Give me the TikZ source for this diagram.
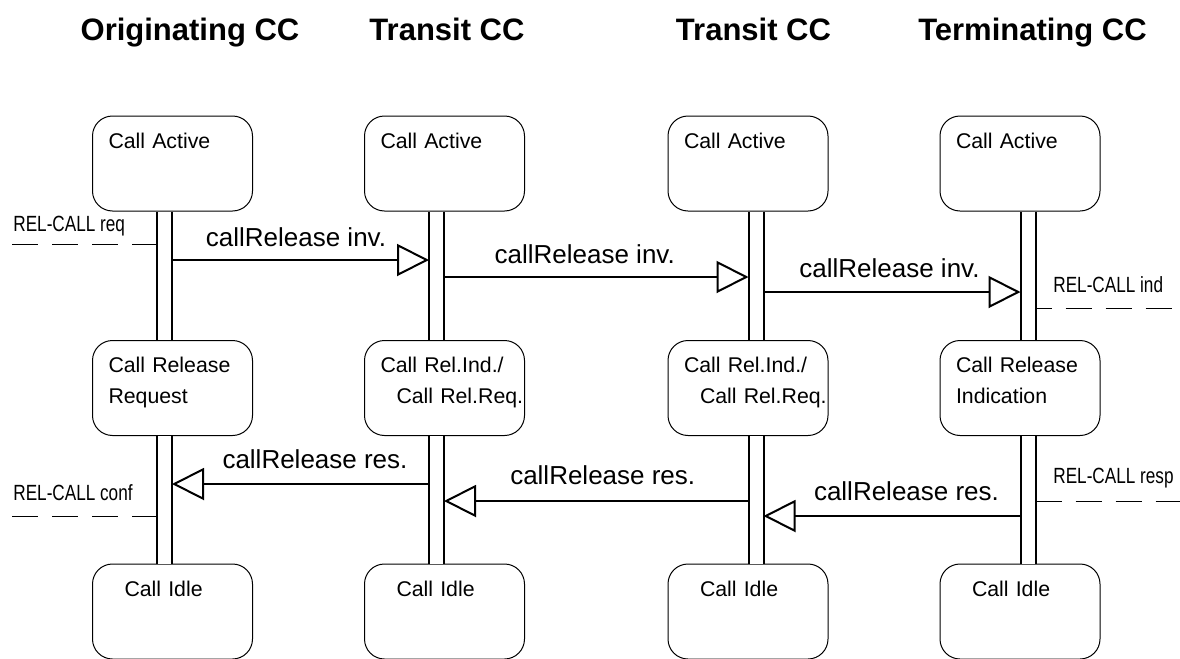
\documentclass[tikz,border=0pt]{standalone}
\usepackage{fontspec}
\setmainfont{Liberation Sans}
\usetikzlibrary{positioning,arrows.meta}

\newcommand{\statefont}{\fontsize{10.65pt}{15.5pt}\selectfont}
\newcommand{\msgfont}{\fontsize{13pt}{15pt}\selectfont}
\newcommand{\envfont}{\fontsize{11pt}{13pt}\selectfont}
\newcommand{\envtxt}[1]{\scalebox{0.78}[1]{#1}}

\begin{document}
\begin{tikzpicture}[
                        x=0.5pt, y=-0.5pt,
                        node distance=136pt,
                        >={Triangle[open,length=16pt,width=16pt]},
                        state/.style={rectangle, draw, rounded corners=10pt, line width=0.5pt,
                            minimum width=80pt, text width=64pt, inner xsep=8pt, inner ysep=0pt,
                            text height=16pt, text depth=31.5pt, align=left, font=\statefont},
                        header/.style={anchor=base, inner sep=0pt, font=\fontsize{15.5pt}{18pt}\selectfont\bfseries},
                        life/.style={double, double distance=6.5pt, line width=1pt},
                        msg/.style={line width=1pt},
                        msglabel/.style={anchor=base, inner sep=0pt, font=\msgfont},
                        env/.style={line width=0.5pt, dash pattern=on 13pt off 7pt},
                        envlabel/.style={anchor=base west, inner sep=0pt, font=\envfont}
                    ]
                    \useasboundingbox (0,0) rectangle (1180,659);

                    % Headers
                    \node [header] (hdorig) at (190,40) {Originating CC};
                    \node [header] (hdtr1) at (447,40) {Transit CC};
                    \node [header] (hdtr2) at (753.5,40) {Transit CC};
                    \node [header] (hdterm) at (1032.5,40) {Terminating CC};

                    % States
                    \node [state] (act1) at (172.5,163.5) {Call Active};
                    \node [state, right of=act1] (act2) {Call Active};
                    \node [state, right of=act2, node distance=151.75pt] (act3) {Call Active};
                    \node [state, right of=act3] (act4) {Call Active};

                    \node [state, below of=act1, node distance=112.25pt] (rel1) {Call Release\\Request};
                    \node [state, below of=act2, node distance=112.25pt] (rel2) {Call Rel.Ind./\\\hspace*{8pt}\mbox{Call Rel.Req.}};
                    \node [state, below of=act3, node distance=112.25pt] (rel3) {Call Rel.Ind./\\\hspace*{8pt}\mbox{Call Rel.Req.}};
                    \node [state, below of=act4, node distance=112.25pt] (rel4) {Call Release\\Indication};

                    \node [state, below of=rel1, node distance=111.75pt] (idle1) {\hspace*{8pt}Call Idle};
                    \node [state, below of=rel2, node distance=111.75pt] (idle2) {\hspace*{8pt}Call Idle};
                    \node [state, below of=rel3, node distance=111.75pt] (idle3) {\hspace*{8pt}Call Idle};
                    \node [state, below of=rel4, node distance=111.75pt] (idle4) {\hspace*{8pt}Call Idle};

                    % Life lines
                    \draw [life] ([xshift=-4pt]act1.south) -- ([xshift=-4pt]rel1.north);
                    \draw [life] ([xshift=-4pt]rel1.south) -- ([xshift=-4pt]idle1.north);
                    \draw [life] ([xshift=-4pt]act2.south) -- ([xshift=-4pt]rel2.north);
                    \draw [life] ([xshift=-4pt]rel2.south) -- ([xshift=-4pt]idle2.north);
                    \draw [life] ([xshift=4pt]act3.south) -- ([xshift=4pt]rel3.north);
                    \draw [life] ([xshift=4pt]rel3.south) -- ([xshift=4pt]idle3.north);
                    \draw [life] ([xshift=4pt]act4.south) -- ([xshift=4pt]rel4.north);
                    \draw [life] ([xshift=4pt]rel4.south) -- ([xshift=4pt]idle4.north);

                    % Message ends on the life lines
                    \coordinate (inv1s) at (172,260);
                    \coordinate (inv1e) at (429,260);
                    \coordinate (inv2s) at (444,277);
                    \coordinate (inv2e) at (748.5,277);
                    \coordinate (inv3s) at (763.5,292);
                    \coordinate (inv3e) at (1020.5,292);
                    \coordinate (res1s) at (429,484);
                    \coordinate (res1e) at (172,484);
                    \coordinate (res2s) at (748.5,501);
                    \coordinate (res2e) at (444,501);
                    \coordinate (res3s) at (1020.5,516);
                    \coordinate (res3e) at (763.5,516);

                    % Messages
                    \draw [msg,->] (inv1s) -- node[msglabel, yshift=7pt, xshift=-2.25pt]{callRelease inv.} (inv1e);
                    \draw [msg,->] (inv2s) -- node[msglabel, yshift=7pt, xshift=-5.75pt]{callRelease inv.} (inv2e);
                    \draw [msg,->] (inv3s) -- node[msglabel, yshift=7.5pt, xshift=-1.25pt]{callRelease inv.} (inv3e);
                    \draw [msg,->] (res1s) -- node[msglabel, yshift=8pt, xshift=7.25pt]{callRelease res.} (res1e);
                    \draw [msg,->] (res2s) -- node[msglabel, yshift=8.5pt, xshift=3.25pt]{callRelease res.} (res2e);
                    \draw [msg,->] (res3s) -- node[msglabel, yshift=8pt, xshift=7.25pt]{callRelease res.} (res3e);

                    % Service primitives
                    \coordinate (reqs) at (12,244);
                    \coordinate (reqe) at (157,244);
                    \coordinate (confs) at (12,516);
                    \coordinate (confe) at (157,516);
                    \coordinate (inds) at (1035.5,308);
                    \coordinate (inde) at (1180,308);
                    \coordinate (resps) at (1035.5,501);
                    \coordinate (respe) at (1180,501);

                    \draw [env] (reqs) -- (reqe);
                    \draw [env] (confs) -- (confe);
                    \draw [env, dash phase=5pt] (inds) -- (inde);
                    \draw [env] (resps) -- (respe);

                    \node [envlabel] (req) at (13,231) {\envtxt{REL-CALL req}};
                    \node [envlabel] (conf) at (13,500) {\envtxt{REL-CALL conf}};
                    \node [envlabel] (ind) at (1053,292) {\envtxt{REL-CALL ind}};
                    \node [envlabel] (resp) at (1053,483) {\envtxt{REL-CALL resp}};
                \end{tikzpicture}
\end{document}
